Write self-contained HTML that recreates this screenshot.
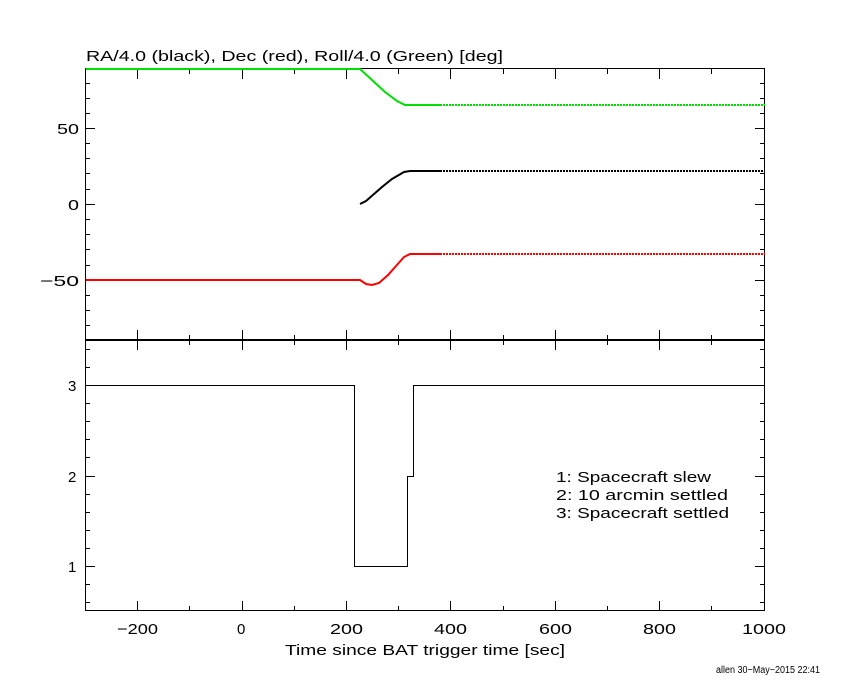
<!DOCTYPE html>
<html><head><style>body{margin:0;background:#fff}</style></head><body>
<svg width="850" height="680" xmlns="http://www.w3.org/2000/svg" font-family="Liberation Sans, sans-serif">
<rect width="850" height="680" fill="#fff"/>
<g stroke="#000" stroke-width="1" fill="none">
<rect x="85.5" y="68.5" width="679" height="542"/>
<line x1="85" y1="340" x2="765" y2="340" stroke-width="2"/>
<path d="M137.5 611v-10M242.5 611v-10M346.5 611v-10M450.5 611v-10M555.5 611v-10M659.5 611v-10
M189.5 611v-5M294.5 611v-5M398.5 611v-5M503.5 611v-5M607.5 611v-5M711.5 611v-5
M137.5 340v-10M242.5 340v-10M346.5 340v-10M450.5 340v-10M555.5 340v-10M659.5 340v-10
M189.5 340v-5M294.5 340v-5M398.5 340v-5M503.5 340v-5M607.5 340v-5M711.5 340v-5
M137.5 340v10M242.5 340v10M346.5 340v10M450.5 340v10M555.5 340v10M659.5 340v10
M189.5 340v5M294.5 340v5M398.5 340v5M503.5 340v5M607.5 340v5M711.5 340v5
M137.5 69v10M242.5 69v10M346.5 69v10M450.5 69v10M555.5 69v10M659.5 69v10
M189.5 69v5M294.5 69v5M398.5 69v5M503.5 69v5M607.5 69v5M711.5 69v5"/>
<path d="M85 128.5h10M85 204.5h10M85 280.5h10M765 128.5h-10M765 204.5h-10M765 280.5h-10
M85 83.5h5M85 98.5h5M85 113.5h5M85 143.5h5M85 158.5h5M85 173.5h5M85 189.5h5M85 219.5h5M85 234.5h5M85 249.5h5M85 265.5h5M85 295.5h5M85 310.5h5M85 325.5h5
M765 83.5h-5M765 98.5h-5M765 113.5h-5M765 143.5h-5M765 158.5h-5M765 173.5h-5M765 189.5h-5M765 219.5h-5M765 234.5h-5M765 249.5h-5M765 265.5h-5M765 295.5h-5M765 310.5h-5M765 325.5h-5"/>
<path d="M85 385.5h10M85 476.5h10M85 566.5h10M765 385.5h-10M765 476.5h-10M765 566.5h-10
M85 349.5h5M85 367.5h5M85 403.5h5M85 421.5h5M85 439.5h5M85 457.5h5M85 494.5h5M85 512.5h5M85 530.5h5M85 548.5h5M85 584.5h5M85 602.5h5
M765 349.5h-5M765 367.5h-5M765 403.5h-5M765 421.5h-5M765 439.5h-5M765 457.5h-5M765 494.5h-5M765 512.5h-5M765 530.5h-5M765 548.5h-5M765 584.5h-5M765 602.5h-5"/>
<path d="M86 385.5H354.5V566.5H407.5V476.5H413.5V385.5H765"/>
</g>
<g fill="none" stroke-width="2">
<path stroke="#00e000" d="M86 69H360L372 80L385 92L397 101L405 105H440"/>
<path stroke="#00e000" stroke-dasharray="2 1" d="M440 105H765"/>
<path stroke="#000" d="M360 204L366 201L374 194L382 187L392 179L404 172L410 171H440"/>
<path stroke="#000" stroke-dasharray="2 1" d="M440 171H765"/>
<path stroke="#f00" d="M86 280H360L366 284L372 285L379 283L388 275L396 266L404 257L410 254H440"/>
<path stroke="#f00" stroke-dasharray="2 1" d="M440 254H765"/>
</g>
<g font-size="15" fill="#000" lengthAdjust="spacingAndGlyphs">
<text x="86" y="61" textLength="417" lengthAdjust="spacingAndGlyphs">RA/4.0 (black), Dec (red), Roll/4.0 (Green) [deg]</text>
<text x="57" y="134" textLength="22" lengthAdjust="spacingAndGlyphs">50</text>
<text x="68" y="210" textLength="11" lengthAdjust="spacingAndGlyphs">0</text>
<text x="40" y="286" textLength="39" lengthAdjust="spacingAndGlyphs">−50</text>
<text x="68" y="391" textLength="11">3</text><text x="68" y="482" textLength="11">2</text><text x="68" y="572" textLength="11">1</text>
<text x="117" y="634" textLength="41" lengthAdjust="spacingAndGlyphs">−200</text>
<text x="237" y="634" textLength="11">0</text>
<text x="330" y="634" textLength="33" lengthAdjust="spacingAndGlyphs">200</text>
<text x="434" y="634" textLength="33" lengthAdjust="spacingAndGlyphs">400</text>
<text x="539" y="634" textLength="33" lengthAdjust="spacingAndGlyphs">600</text>
<text x="643" y="634" textLength="33" lengthAdjust="spacingAndGlyphs">800</text>
<text x="742" y="634" textLength="44" lengthAdjust="spacingAndGlyphs">1000</text>
<text x="285" y="655" textLength="280" lengthAdjust="spacingAndGlyphs">Time since BAT trigger time [sec]</text>
<text x="556" y="482" textLength="155" lengthAdjust="spacingAndGlyphs">1: Spacecraft slew</text>
<text x="556" y="500" textLength="172" lengthAdjust="spacingAndGlyphs">2: 10 arcmin settled</text>
<text x="556" y="518" textLength="173" lengthAdjust="spacingAndGlyphs">3: Spacecraft settled</text>
</g>
<text x="716" y="673" font-size="10" textLength="104" lengthAdjust="spacingAndGlyphs">allen 30−May−2015 22:41</text>
</svg>
</body></html>
